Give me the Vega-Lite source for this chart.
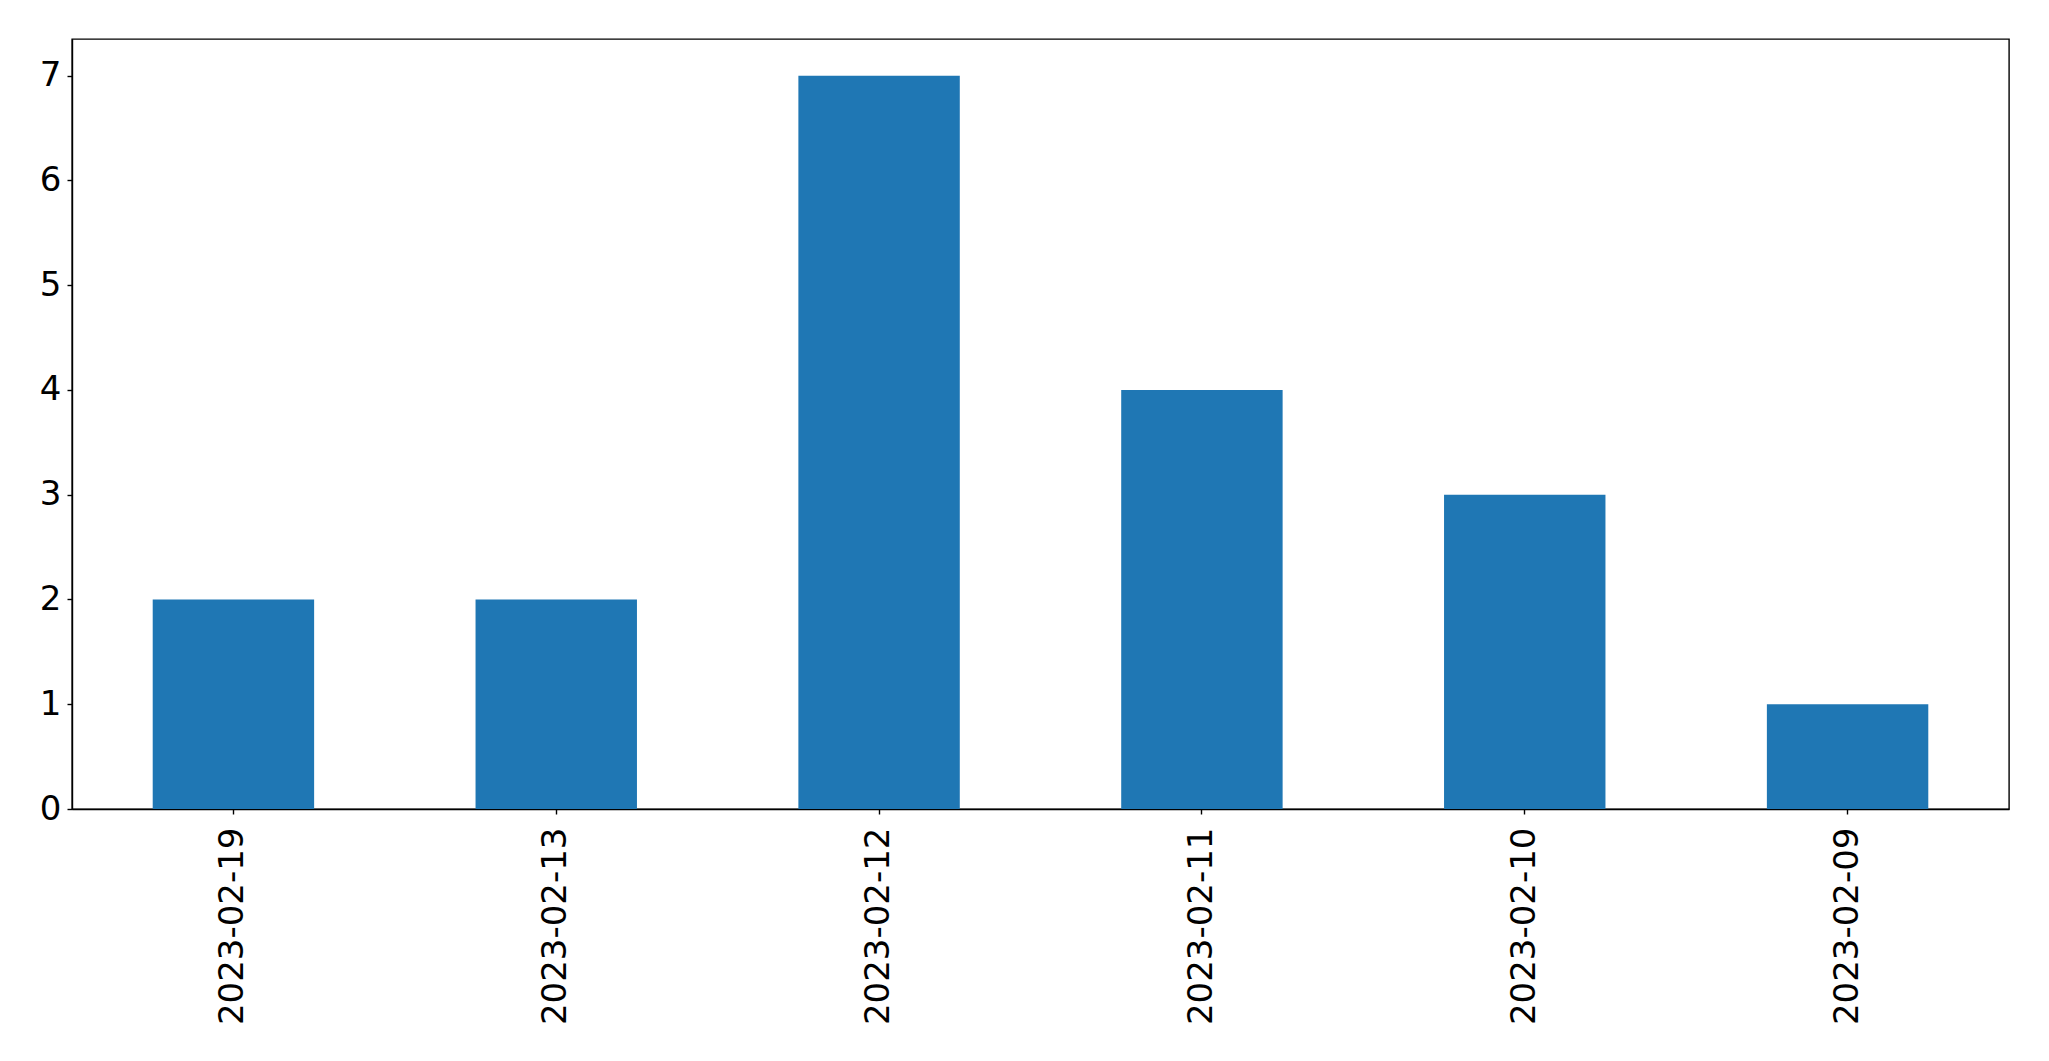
{
  "$schema": "https://vega.github.io/schema/vega-lite/v6.json",
  "autosize": "none",
  "width": 1937,
  "height": 770,
  "padding": {"left": 72, "top": 39, "right": 40, "bottom": 252},
  "background": "white",
  "config": {
    "view": {"stroke": "black", "strokeWidth": 1.4},
    "font": "DejaVu Sans"
  },
  "data": {
    "values": [
      {"date": "2023-02-19", "count": 2},
      {"date": "2023-02-13", "count": 2},
      {"date": "2023-02-12", "count": 7},
      {"date": "2023-02-11", "count": 4},
      {"date": "2023-02-10", "count": 3},
      {"date": "2023-02-09", "count": 1}
    ]
  },
  "mark": {"type": "bar", "color": "#1f77b4"},
  "encoding": {
    "x": {
      "field": "date",
      "type": "nominal",
      "sort": null,
      "scale": {"paddingInner": 0.5, "paddingOuter": 0.25},
      "axis": {
        "title": null,
        "labelAngle": -90,
        "labelFontSize": 34,
        "labelLimit": 0,
        "labelColor": "black",
        "labelFont": "DejaVu Sans",
        "labelPadding": 13,
        "tickColor": "black",
        "tickSize": 5,
        "tickWidth": 1.4,
        "domainColor": "black",
        "domainWidth": 1.4,
        "grid": false
      }
    },
    "y": {
      "field": "count",
      "type": "quantitative",
      "scale": {"domain": [0, 7.35], "nice": false},
      "axis": {
        "title": null,
        "values": [0, 1, 2, 3, 4, 5, 6, 7],
        "labelFontSize": 34,
        "labelColor": "black",
        "labelFont": "DejaVu Sans",
        "labelPadding": 6,
        "tickColor": "black",
        "tickSize": 5,
        "tickWidth": 1.4,
        "domainColor": "black",
        "domainWidth": 1.4,
        "grid": false
      }
    }
  }
}
